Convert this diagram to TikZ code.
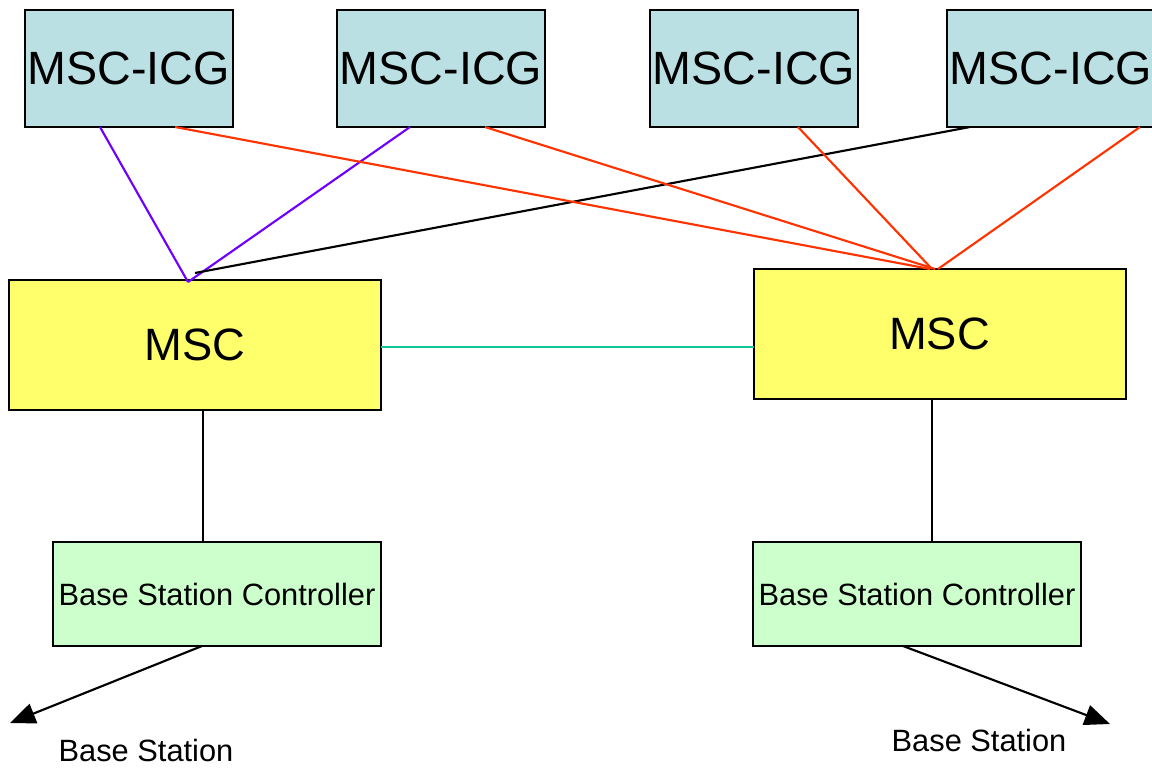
\documentclass[tikz,border=0pt]{standalone}
\usepackage{fontspec}
\setmainfont{Liberation Sans}
\usetikzlibrary{arrows.meta}
\newcommand{\pxu}{0.75pt}
\definecolor{icgfill}{HTML}{BBE0E3}
\definecolor{mscfill}{HTML}{FFFF6B}
\definecolor{bscfill}{HTML}{CCFFCC}
\definecolor{linkpurple}{HTML}{6E00FF}
\definecolor{linkred}{HTML}{FF3300}
\definecolor{linkteal}{HTML}{10C896}
\tikzset{
  box/.style={draw=black, line width=1.5pt, inner sep=0pt, outer sep=0pt, text=black},
  icgbox/.style={box, fill=icgfill, minimum width=208*\pxu, minimum height=117*\pxu,
    font=\fontsize{35}{40}\selectfont},
  mscbox/.style={box, fill=mscfill, minimum width=372*\pxu, minimum height=130*\pxu,
    font=\fontsize{34}{40}\selectfont},
  bscbox/.style={box, fill=bscfill, minimum width=328*\pxu, minimum height=104*\pxu,
    font=\fontsize{23.1}{27}\selectfont},
  link/.style={line width=1.6pt},
  bslabel/.style={font=\fontsize{23.1}{27}\selectfont, inner sep=0pt},
  outarrow/.style={link, -{Triangle[length=19pt, width=15.5pt]}},
}
\begin{document}
\begin{tikzpicture}[x=0.75pt, y=-0.75pt]
\useasboundingbox (0,0) rectangle (1152,767);

% interconnect gateways
\node[icgbox] (icg1) at (128.5,68.5) {MSC-ICG};
\node[icgbox] (icg2) at (441,68.5) {MSC-ICG};
\node[icgbox] (icg3) at (754,68.5) {MSC-ICG};
\node[icgbox] (icg4) at (1051,68.5) {MSC-ICG};

% switching centres
\node[mscbox] (msc1) at (195,345) {MSC};
\node[mscbox] (msc2) at (939.5,334) {MSC};

% base station controllers
\node[bscbox] (bsc1) at (217,594) {Base Station Controller};
\node[bscbox] (bsc2) at (917,594) {Base Station Controller};

% base station labels
\node[bslabel] (bs1) at (146,750) {Base Station};
\node[bslabel] (bs2) at (979,740) {Base Station};
\coordinate (bs1tip) at (10,723);
\coordinate (bs2tip) at (1110,724);

% gateway links to the left MSC
\draw[link, linkpurple] ([xshift=-28.5*\pxu]icg1.south) -- ([xshift=-7*\pxu, yshift=-2*\pxu]msc1.north);
\draw[link, linkpurple] ([xshift=-31*\pxu]icg2.south) -- ([xshift=-7*\pxu, yshift=-2*\pxu]msc1.north);
\draw[link, black] ([xshift=-81*\pxu]icg4.south) -- ([yshift=7*\pxu]msc1.north);

% gateway links to the right MSC
\draw[link, linkred] ([xshift=46.5*\pxu]icg1.south) -- ([xshift=-9.5*\pxu]msc2.north);
\draw[link, linkred] ([xshift=44*\pxu]icg2.south) -- ([xshift=-4.5*\pxu]msc2.north);
\draw[link, linkred] ([xshift=44*\pxu]icg3.south) -- ([xshift=-7.5*\pxu]msc2.north);
\draw[link, linkred] ([xshift=89*\pxu]icg4.south) -- ([xshift=-1.5*\pxu]msc2.north);

% MSC to MSC
\draw[link, linkteal] (msc1.east |- 0,347) -- (msc2.west |- 0,347);

% MSC to controller
\draw[link, black] (msc1.south -| 203,0) -- (bsc1.north -| 203,0);
\draw[link, black] (msc2.south -| 932,0) -- (bsc2.north -| 932,0);

% controller to base stations
\draw[outarrow] ([xshift=-15*\pxu]bsc1.south) -- (bs1tip);
\draw[outarrow] ([xshift=-14*\pxu]bsc2.south) -- (bs2tip);
\end{tikzpicture}
\end{document}
